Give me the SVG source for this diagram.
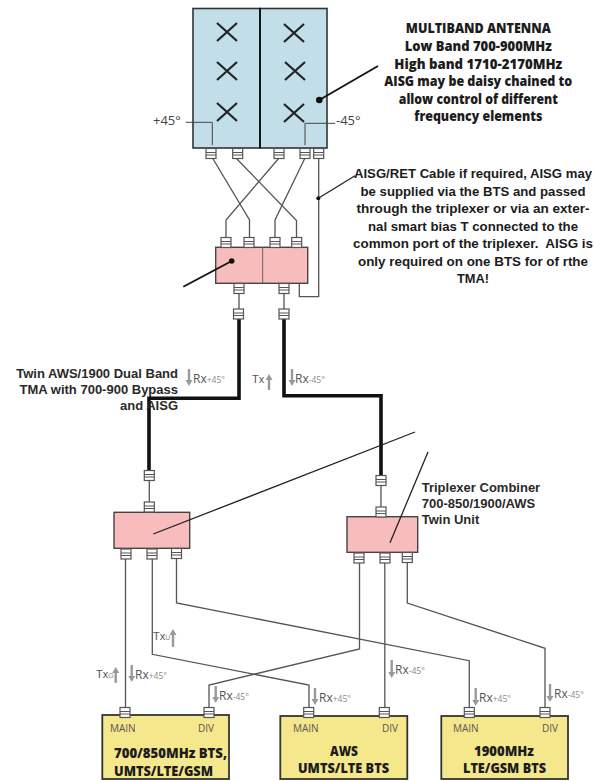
<svg xmlns="http://www.w3.org/2000/svg" xmlns:xlink="http://www.w3.org/1999/xlink" width="595" height="781" viewBox="0 0 595 781">
<style>
.cab{fill:none;stroke:#555;stroke-width:1.3;stroke-linejoin:miter}
.thick{fill:none;stroke:#111;stroke-width:3.6;stroke-linejoin:miter}
.lead{fill:none;stroke:#222;stroke-width:1.3}
.lead2{fill:none;stroke:#111;stroke-width:1.8}
.dot{fill:#111}
.ant{fill:#c2dfe9;stroke:#333;stroke-width:1.6}
.tma{fill:#f9bcbc;stroke:#444;stroke-width:1.4}
.bts{fill:#f5e78b;stroke:#333;stroke-width:1.8}
.x{stroke:#222;stroke-width:2.2;fill:none}
.pol{fill:none;stroke:#444;stroke-width:1}
.arr{stroke:#999;stroke-width:2.4;fill:none;marker-end:url(#ah)}
text{font-family:"Liberation Sans",Arial,sans-serif}
.b{font-family:"Open Sans","Liberation Sans",sans-serif;font-weight:800;fill:#1c1c1c;font-size:13.5px;text-anchor:middle}
.c{font-weight:700;fill:#1c1c1c;font-size:12.4px;text-anchor:middle}
.a{font-weight:700;fill:#2a2a2a;font-size:13px}
.s{font-family:"Open Sans","Liberation Sans",sans-serif;fill:#555;font-size:10px}
.r{font-family:"Open Sans","Liberation Sans",sans-serif;fill:#555;font-size:12px}
.q{font-family:"Liberation Sans",sans-serif;fill:#555;font-size:11px}
.sub{font-size:8.500px;fill:#888}
.sm{font-size:7px;fill:#888}
.p{font-family:"Open Sans","Liberation Sans",sans-serif;fill:#444;font-size:13px}
.t{font-family:"Open Sans","Liberation Sans",sans-serif;font-weight:800;fill:#1c1c1c;font-size:13.5px}
</style>
<defs>
<marker id="ah" markerUnits="userSpaceOnUse" markerWidth="8" markerHeight="8" refX="2" refY="3.500" orient="auto"><path d="M0 0L6 3.500L0 7Z" fill="#999"/></marker>
<g id="c"><rect x="-5" y="0" width="10" height="10" fill="#fff" stroke="#555" stroke-width="1.2"/><path d="M-5 4H5M-5 6.500H5" stroke="#555" stroke-width="1.1"/></g>
<g id="xx"><path class="x" d="M-10-9L10 9M-10 9L10-9"/></g>
</defs>
<rect width="595" height="781" fill="#fff"/>
<g id="connectors">
<path class="cab" d="M212.500 158L249.500 220V238M236 158L296.500 220.500V238M279 158L226 220V238M305 158L275 220V238"/>
<path class="cab" d="M318.700 158V296.700H299.300V283.300"/>
<path class="cab" d="M239 292V309M284 292V309"/>
<path class="thick" d="M239 319V398.300H149V470M284 319V395.700H381V475"/>
<path class="cab" d="M149.300 481V502M381 486V507"/>
<path class="cab" d="M125.500 559V708"/>
<path class="cab" d="M152.300 559V654.300L309 685V708"/>
<path class="cab" d="M176.500 559V603L469.300 660.700V708"/>
<path class="cab" d="M359.500 563V649L209 685V708"/>
<path class="cab" d="M384.800 563V708"/>
<path class="cab" d="M407.300 563V603L545 648.300V708"/>
</g>
<g id="antenna">
<rect class="ant" x="193" y="8.500" width="67" height="139.500"/>
<rect class="ant" x="260" y="8.500" width="67" height="139.500"/>
<path d="M260 8V148" stroke="#111" stroke-width="1.800"/>
<use xlink:href="#xx" href="#xx" x="227" y="32"/>
<use xlink:href="#xx" href="#xx" x="227" y="71"/>
<use xlink:href="#xx" href="#xx" x="227" y="112"/>
<use xlink:href="#xx" href="#xx" x="294" y="33"/>
<use xlink:href="#xx" href="#xx" x="295" y="71"/>
<use xlink:href="#xx" href="#xx" x="294" y="113"/>
<path class="pol" d="M185.700 122.300H212.300V145M305 145V123.300H335"/>
<text class="p" x="153" y="125">+45°</text>
<text class="p" x="336" y="125">-45°</text>
<use xlink:href="#c" href="#c" x="211" y="148.500"/>
<use xlink:href="#c" href="#c" x="237.700" y="148.500"/>
<use xlink:href="#c" href="#c" x="279" y="148.500"/>
<use xlink:href="#c" href="#c" x="305" y="148.500"/>
<use xlink:href="#c" href="#c" x="318.700" y="148.500"/>
</g>
<g id="tma">
<rect class="tma" x="215.700" y="247.300" width="92" height="36"/>
<path d="M262.700 247.300V283.300" stroke="#666" stroke-width="1"/>
<use xlink:href="#c" href="#c" x="226" y="237.500"/>
<use xlink:href="#c" href="#c" x="249" y="237.500"/>
<use xlink:href="#c" href="#c" x="275" y="237.500"/>
<use xlink:href="#c" href="#c" x="296.700" y="237.500"/>
<use xlink:href="#c" href="#c" x="239" y="283.500"/>
<use xlink:href="#c" href="#c" x="284" y="283.500"/>
<use xlink:href="#c" href="#c" x="238.500" y="309"/>
<use xlink:href="#c" href="#c" x="284" y="309"/>
</g>
<g id="triplexer-left">
<rect class="tma" x="114" y="512.300" width="75.700" height="36"/>
<use xlink:href="#c" href="#c" x="149.300" y="470.500"/>
<use xlink:href="#c" href="#c" x="149.300" y="502"/>
<use xlink:href="#c" href="#c" x="126" y="549"/>
<use xlink:href="#c" href="#c" x="152" y="549"/>
<use xlink:href="#c" href="#c" x="176.500" y="548.500"/>
</g>
<g id="triplexer-right">
<rect class="tma" x="347" y="516.700" width="70.700" height="35.600"/>
<use xlink:href="#c" href="#c" x="381" y="475.500"/>
<use xlink:href="#c" href="#c" x="381" y="507"/>
<use xlink:href="#c" href="#c" x="359" y="553"/>
<use xlink:href="#c" href="#c" x="385" y="553"/>
<use xlink:href="#c" href="#c" x="407.300" y="552.500"/>
</g>
<g id="bts-700">
<rect class="bts" x="102.300" y="715" width="126.700" height="64"/>
<use xlink:href="#c" href="#c" x="125" y="707.500"/>
<use xlink:href="#c" href="#c" x="209" y="707.500"/>
<text class="s" x="110" y="732">MAIN</text>
<text class="s" x="198" y="732">DIV</text>
<text class="t" x="114" y="758" textLength="113" lengthAdjust="spacingAndGlyphs">700/850MHz BTS,</text>
<text class="t" x="114" y="775.500" textLength="99" lengthAdjust="spacingAndGlyphs">UMTS/LTE/GSM</text>
</g>
<g id="bts-aws">
<rect class="bts" x="280.300" y="716" width="127" height="63"/>
<use xlink:href="#c" href="#c" x="308.700" y="707.500"/>
<use xlink:href="#c" href="#c" x="384.300" y="707.500"/>
<text class="s" x="293" y="732">MAIN</text>
<text class="s" x="382" y="732">DIV</text>
<text class="t" x="330" y="756" textLength="28" lengthAdjust="spacingAndGlyphs">AWS</text>
<text class="t" x="298" y="773" textLength="91" lengthAdjust="spacingAndGlyphs">UMTS/LTE BTS</text>
</g>
<g id="bts-1900">
<rect class="bts" x="441.300" y="716" width="126.700" height="63"/>
<use xlink:href="#c" href="#c" x="469.300" y="707.500"/>
<use xlink:href="#c" href="#c" x="545" y="707.500"/>
<text class="s" x="453" y="732">MAIN</text>
<text class="s" x="542" y="732">DIV</text>
<text class="t" x="474" y="756" textLength="60" lengthAdjust="spacingAndGlyphs">1900MHz</text>
<text class="t" x="463" y="773" textLength="83" lengthAdjust="spacingAndGlyphs">LTE/GSM BTS</text>
</g>
<g id="leaders">
<path class="lead2" d="M319.300 100L378 66"/><circle class="dot" cx="319.300" cy="100" r="3.300"/>
<path class="lead" d="M318.300 198.300L355 175.700"/><circle class="dot" cx="318.300" cy="198.300" r="2"/>
<path class="lead2" d="M231.700 261L183.300 286.700"/><circle class="dot" cx="231.700" cy="261" r="2.800"/>
<path class="lead" d="M153.300 534L415 432"/>
<path class="lead" d="M390 542.700L428 452"/>
</g>
<g id="signal-labels">
<path class="arr" d="M189 369V382"/><text class="r" x="193" y="383">Rx<tspan class="sub">+45°</tspan></text>
<text class="q" x="252" y="383">Tx</text><path class="arr" d="M269 390V378"/>
<path class="arr" d="M292 369V382"/><text class="r" x="295" y="383">Rx<tspan class="sub">-45°</tspan></text>
<text class="q" x="96" y="678">Tx<tspan class="sm">G</tspan></text><path class="arr" d="M115.700 683V671"/>
<path class="arr" d="M131.700 665V678"/><text class="r" x="135" y="679">Rx<tspan class="sub">+45°</tspan></text>
<text class="q" x="153" y="640">Tx<tspan class="sm">U</tspan></text><path class="arr" d="M173 647V633"/>
<path class="arr" d="M215.700 686V699"/><text class="r" x="219" y="700">Rx<tspan class="sub">-45°</tspan></text>
<path class="arr" d="M315 688V701"/><text class="r" x="319" y="702">Rx<tspan class="sub">+45°</tspan></text>
<path class="arr" d="M391.700 660V674"/><text class="r" x="395" y="674">Rx<tspan class="sub">-45°</tspan></text>
<path class="arr" d="M475.700 688V702"/><text class="r" x="479" y="702">Rx<tspan class="sub">+45°</tspan></text>
<path class="arr" d="M550 684V698"/><text class="r" x="554" y="698">Rx<tspan class="sub">-45°</tspan></text>
</g>
<g id="notes">
<text class="b" x="478.300" y="33.300" textLength="145" lengthAdjust="spacingAndGlyphs">MULTIBAND ANTENNA</text>
<text class="b" x="478.300" y="50.700" textLength="147" lengthAdjust="spacingAndGlyphs">Low Band 700-900MHz</text>
<text class="b" x="478.300" y="69" textLength="168" lengthAdjust="spacingAndGlyphs">High band 1710-2170MHz</text>
<text class="b" x="478.300" y="86.300" textLength="188" lengthAdjust="spacingAndGlyphs">AISG may be daisy chained to</text>
<text class="b" x="478.300" y="104" textLength="159" lengthAdjust="spacingAndGlyphs">allow control of different</text>
<text class="b" x="478.300" y="121" textLength="128" lengthAdjust="spacingAndGlyphs">frequency elements</text>
<text class="c" x="473" y="178.300" textLength="238" lengthAdjust="spacingAndGlyphs">AISG/RET Cable if required, AISG may</text>
<text class="c" x="473" y="195.700" textLength="225" lengthAdjust="spacingAndGlyphs">be supplied via the BTS and passed</text>
<text class="c" x="473" y="213.300" textLength="233" lengthAdjust="spacingAndGlyphs">through the triplexer or via an exter-</text>
<text class="c" x="473" y="230.700" textLength="210" lengthAdjust="spacingAndGlyphs">nal smart bias T connected to the</text>
<text class="c" x="473" y="248.300" textLength="240" lengthAdjust="spacingAndGlyphs" xml:space="preserve">common port of the triplexer.  AISG is</text>
<text class="c" x="473" y="266" textLength="230" lengthAdjust="spacingAndGlyphs">only required on one BTS for of rthe</text>
<text class="c" x="473" y="283.300" textLength="32" lengthAdjust="spacingAndGlyphs">TMA!</text>
<text class="a" x="178" y="378.300" text-anchor="end">Twin AWS/1900 Dual Band</text>
<text class="a" x="178" y="394" text-anchor="end">TMA with 700-900 Bypass</text>
<text class="a" x="178" y="410" text-anchor="end">and AISG</text>
<text class="a" x="421.700" y="492.300">Triplexer Combiner</text>
<text class="a" x="421.700" y="508.300">700-850/1900/AWS</text>
<text class="a" x="421.700" y="524.300">Twin Unit</text>
</g>
</svg>
